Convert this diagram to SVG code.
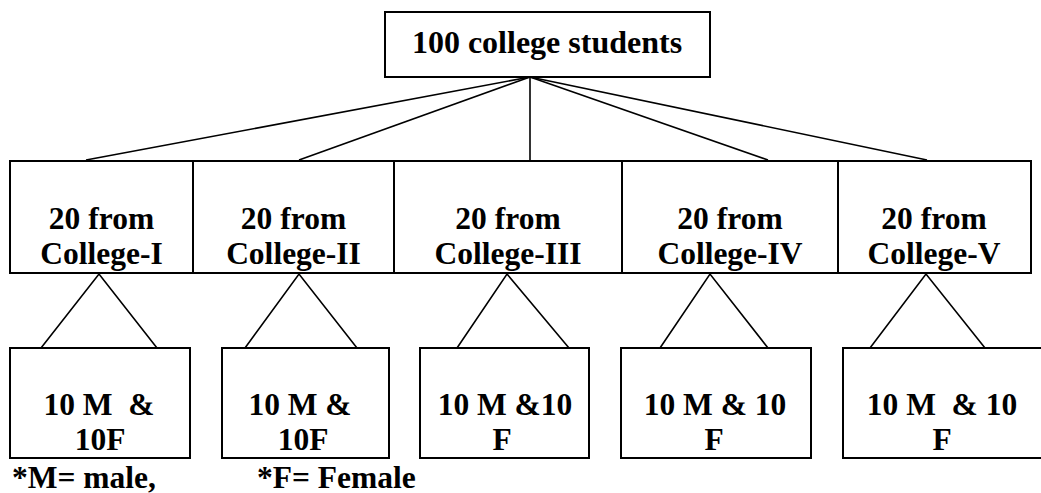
<svg xmlns="http://www.w3.org/2000/svg" width="1041" height="493" viewBox="0 0 1041 493">
<style>
.box{fill:#fff;stroke:#000;stroke-width:2}
.ln{stroke:#000;stroke-width:1.6;fill:none}
.tx{font-weight:bold;fill:#000;text-anchor:middle;white-space:pre}
.t{font-size:32px}
.m{font-size:31.5px}
.f{text-anchor:start}
</style>
<rect width="1041" height="493" fill="#fff"/>
<g id="connectors">
<line class="ln" x1="530" y1="77" x2="86" y2="160"/>
<line class="ln" x1="530" y1="77" x2="299" y2="160"/>
<line class="ln" x1="530" y1="77" x2="530" y2="161"/>
<line class="ln" x1="530" y1="77" x2="768" y2="160"/>
<line class="ln" x1="530" y1="77" x2="927" y2="160"/>
<polyline class="ln" points="41,348 99,274 157,348"/>
<polyline class="ln" points="245,348 299,274 357,348"/>
<polyline class="ln" points="457,348 507,274 569,348"/>
<polyline class="ln" points="660,348 710,274 768,348"/>
<polyline class="ln" points="870,348 926,274 985,348"/>
</g>
<g font-family="'Liberation Serif', Tinos, 'Times New Roman', Times, 'DejaVu Serif', serif" font-weight="bold">
<g id="root">
<rect class="box" x="385" y="12" width="325" height="65"/>
<text class="tx t" x="547" y="53">100 college students</text>
</g>
<g id="college1">
<rect class="box" x="10" y="161" width="183" height="112"/>
<text class="tx m" x="101.5" y="229">20 from</text>
<text class="tx m" x="101.5" y="264">College-I</text>
</g>
<g id="college2">
<rect class="box" x="193" y="161" width="201" height="112"/>
<text class="tx m" x="293.5" y="229">20 from</text>
<text class="tx m" x="293.5" y="264">College-II</text>
</g>
<g id="college3">
<rect class="box" x="394" y="161" width="228" height="112"/>
<text class="tx m" x="508" y="229">20 from</text>
<text class="tx m" x="508" y="264">College-III</text>
</g>
<g id="college4">
<rect class="box" x="622" y="161" width="216" height="112"/>
<text class="tx m" x="730" y="229">20 from</text>
<text class="tx m" x="730" y="264">College-IV</text>
</g>
<g id="college5">
<rect class="box" x="838" y="161" width="193" height="112"/>
<text class="tx m" x="934" y="229">20 from</text>
<text class="tx m" x="934" y="264">College-V</text>
</g>
<g id="gender1">
<rect class="box" x="10" y="348" width="180" height="110"/>
<text class="tx m" x="99" y="415">10 M  &amp;</text>
<text class="tx m" x="100" y="450">10F</text>
</g>
<g id="gender2">
<rect class="box" x="222" y="348" width="167" height="110"/>
<text class="tx m" x="300" y="415">10 M &amp;</text>
<text class="tx m" x="303" y="450">10F</text>
</g>
<g id="gender3">
<rect class="box" x="420" y="348" width="169" height="110"/>
<text class="tx m" x="505" y="415">10 M &amp;10</text>
<text class="tx m" x="502" y="450">F</text>
</g>
<g id="gender4">
<rect class="box" x="621" y="348" width="190" height="110"/>
<text class="tx m" x="715" y="415">10 M &amp; 10</text>
<text class="tx m" x="714" y="450">F</text>
</g>
<g id="gender5">
<rect class="box" x="843" y="348" width="210" height="110"/>
<text class="tx m" x="942" y="415">10 M  &amp; 10</text>
<text class="tx m" x="942" y="450">F</text>
</g>
<g id="legend">
<text class="tx m f" x="12" y="488">*M= male,</text>
<text class="tx m f" x="257" y="488">*F= Female</text>
</g>
</g>
</svg>
